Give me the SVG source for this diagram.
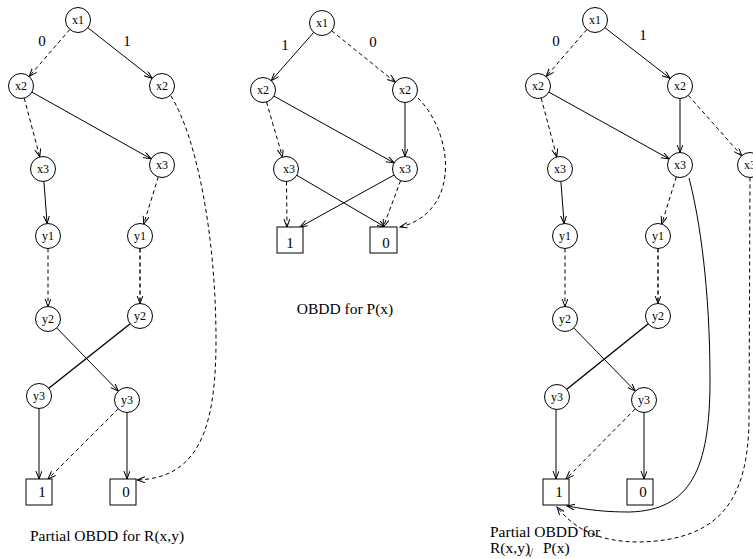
<svg xmlns="http://www.w3.org/2000/svg" width="753" height="559" viewBox="0 0 753 559">
<style>
text{font-family:"Liberation Serif","Times New Roman",serif;fill:#000}
.n circle{fill:#fff;stroke:#000;stroke-width:1}
.n text{font-size:12px;text-anchor:middle}
.b rect{fill:#fff;stroke:#000;stroke-width:1}
.b text{font-size:15px;text-anchor:middle}
.e{fill:none;stroke:#000;stroke-width:1}
.d{stroke-dasharray:4 3}
.t{stroke-width:1.4}
.a{marker-end:url(#arr)}
.lab{font-size:15px;text-anchor:middle}
.cap{font-size:15.5px}
</style>
<defs>
<marker id="arr" markerUnits="userSpaceOnUse" markerWidth="10" markerHeight="8" refX="8" refY="3" orient="auto">
<path d="M0,0 L8,3 L0,6" fill="none" stroke="#000" stroke-width="1" stroke-dasharray="none"/>
</marker>
</defs>
<rect width="753" height="559" fill="#fff"/>
<g id="connectors">
<!-- left -->
<line class="e d a" x1="69.8" y1="29.5" x2="29.2" y2="76.5"/>
<line class="e a" x1="87.8" y1="27.7" x2="152.2" y2="78.3"/>
<line class="e d a" x1="24.2" y1="98.1" x2="39.8" y2="156.9"/>
<line class="e a" x1="31.9" y1="92.1" x2="151.1" y2="158.9"/>
<path class="e d a" d="M171,96 C198,140 216,240 216,340 C216,430 198,478 137,480"/>
<line class="e a" x1="43.9" y1="181.5" x2="47.1" y2="223.5"/>
<line class="e d a" x1="158.3" y1="176.9" x2="143.7" y2="224.1"/>
<line class="e d a" x1="48" y1="248.5" x2="48" y2="306.5"/>
<line class="e d t a" x1="140" y1="248.5" x2="140" y2="303.5"/>
<line class="e a" x1="56.7" y1="327.9" x2="118.3" y2="391.1"/>
<line class="e t" x1="130.2" y1="323.8" x2="48.8" y2="388.2"/>
<line class="e a" x1="39" y1="408.5" x2="39" y2="479"/>
<line class="e d a" x1="118.2" y1="408.8" x2="48" y2="479"/>
<line class="e a" x1="127" y1="412.5" x2="127" y2="479"/>
<!-- middle -->
<line class="e a" x1="313.7" y1="32.4" x2="271.3" y2="80.6"/>
<line class="e d a" x1="331.7" y1="30.8" x2="395.3" y2="82.2"/>
<line class="e d a" x1="266.5" y1="102" x2="282.5" y2="157"/>
<line class="e a" x1="273.9" y1="96.1" x2="394.1" y2="162.9"/>
<line class="e a" x1="405" y1="102.5" x2="405" y2="156.5"/>
<path class="e d a" d="M418,98 C438,118 448,150 445,175 C442,205 422,222 400,227"/>
<line class="e d a" x1="286.5" y1="181.5" x2="287" y2="227"/>
<line class="e a" x1="296.8" y1="175.3" x2="385" y2="227"/>
<line class="e a" x1="394.1" y1="175" x2="300" y2="227"/>
<line class="e d a" x1="400.6" y1="180.7" x2="383.3" y2="227"/>
<!-- right -->
<line class="e d a" x1="586.8" y1="29.5" x2="546.2" y2="76.5"/>
<line class="e a" x1="604.9" y1="27.7" x2="670.1" y2="78.3"/>
<line class="e d a" x1="541.2" y1="98.1" x2="556.8" y2="156.9"/>
<line class="e a" x1="548.9" y1="92.1" x2="669.1" y2="158.9"/>
<line class="e a" x1="680" y1="98.5" x2="680" y2="152.5"/>
<line class="e d a" x1="688.3" y1="95.4" x2="741.7" y2="155.6"/>
<line class="e a" x1="560.9" y1="181.5" x2="564.1" y2="223.5"/>
<line class="e d a" x1="676.3" y1="176.9" x2="661.7" y2="224.1"/>
<path class="e a" d="M689,178 C700,220 710,290 710,380 C710,470 690,510 630,512 C600,512 585,509 567,506"/>
<path class="e d a" d="M750,177.5 L749,420 C748,500 720,540 640,542 C600,542 575,530 557,507"/>
<line class="e d a" x1="565" y1="248.5" x2="565" y2="306.5"/>
<line class="e d t a" x1="658" y1="248.5" x2="658" y2="303.5"/>
<line class="e a" x1="573.7" y1="327.9" x2="635.3" y2="391.1"/>
<line class="e t" x1="648.3" y1="323.8" x2="566.8" y2="389.2"/>
<line class="e a" x1="556" y1="409.5" x2="556" y2="479"/>
<line class="e d a" x1="635.2" y1="408.9" x2="566" y2="479"/>
<line class="e a" x1="644" y1="412.5" x2="644" y2="479"/>
</g>
<!-- edge labels -->
<text class="lab" x="42" y="46">0</text>
<text class="lab" x="127" y="46">1</text>
<text class="lab" x="285" y="50">1</text>
<text class="lab" x="373" y="47">0</text>
<text class="lab" x="556" y="46">0</text>
<text class="lab" x="643" y="40">1</text>
<!-- left nodes -->
<g id="L_x1" class="n"><circle cx="78" cy="20" r="12.5"/><text x="78" y="24">x1</text></g>
<g id="L_x2a" class="n"><circle cx="21" cy="86" r="12.5"/><text x="21" y="90">x2</text></g>
<g id="L_x2b" class="n"><circle cx="162" cy="86" r="12.5"/><text x="162" y="90">x2</text></g>
<g id="L_x3a" class="n"><circle cx="43" cy="169" r="12.5"/><text x="43" y="173">x3</text></g>
<g id="L_x3b" class="n"><circle cx="162" cy="165" r="12.5"/><text x="162" y="169">x3</text></g>
<g id="L_y1a" class="n"><circle cx="48" cy="236" r="12.5"/><text x="48" y="240">y1</text></g>
<g id="L_y1b" class="n"><circle cx="140" cy="236" r="12.5"/><text x="140" y="240">y1</text></g>
<g id="L_y2a" class="n"><circle cx="48" cy="319" r="12.5"/><text x="48" y="323">y2</text></g>
<g id="L_y2b" class="n"><circle cx="140" cy="316" r="12.5"/><text x="140" y="320">y2</text></g>
<g id="L_y3a" class="n"><circle cx="39" cy="396" r="12.5"/><text x="39" y="400">y3</text></g>
<g id="L_y3b" class="n"><circle cx="127" cy="400" r="12.5"/><text x="127" y="404">y3</text></g>
<g id="L_one" class="b"><rect x="26" y="479" width="26" height="26"/><text x="42" y="497">1</text></g>
<g id="L_zero" class="b"><rect x="110" y="479" width="26" height="26"/><text x="126" y="497">0</text></g>
<!-- middle nodes -->
<g id="M_x1" class="n"><circle cx="322" cy="23" r="12.5"/><text x="322" y="27">x1</text></g>
<g id="M_x2a" class="n"><circle cx="263" cy="90" r="12.5"/><text x="263" y="94">x2</text></g>
<g id="M_x2b" class="n"><circle cx="405" cy="90" r="12.5"/><text x="405" y="94">x2</text></g>
<g id="M_x3a" class="n"><circle cx="286" cy="169" r="12.5"/><text x="289" y="173">x3</text></g>
<g id="M_x3b" class="n"><circle cx="405" cy="169" r="12.5"/><text x="405" y="173">x3</text></g>
<g id="M_one" class="b"><rect x="277" y="227" width="26" height="26"/><text x="290" y="248">1</text></g>
<g id="M_zero" class="b"><rect x="370" y="227" width="27" height="26"/><text x="386" y="248">0</text></g>
<!-- right nodes -->
<g id="R_x1" class="n"><circle cx="595" cy="20" r="12.5"/><text x="595" y="24">x1</text></g>
<g id="R_x2a" class="n"><circle cx="538" cy="86" r="12.5"/><text x="538" y="90">x2</text></g>
<g id="R_x2b" class="n"><circle cx="680" cy="86" r="12.5"/><text x="680" y="90">x2</text></g>
<g id="R_x3a" class="n"><circle cx="560" cy="169" r="12.5"/><text x="560" y="173">x3</text></g>
<g id="R_x3b" class="n"><circle cx="680" cy="165" r="12.5"/><text x="680" y="169">x3</text></g>
<g id="R_x3c" class="n"><circle cx="750" cy="165" r="12.5"/><text x="750" y="169">x3</text></g>
<g id="R_y1a" class="n"><circle cx="565" cy="236" r="12.5"/><text x="565" y="240">y1</text></g>
<g id="R_y1b" class="n"><circle cx="658" cy="236" r="12.5"/><text x="658" y="240">y1</text></g>
<g id="R_y2a" class="n"><circle cx="565" cy="319" r="12.5"/><text x="565" y="323">y2</text></g>
<g id="R_y2b" class="n"><circle cx="658" cy="316" r="12.5"/><text x="658" y="320">y2</text></g>
<g id="R_y3a" class="n"><circle cx="557" cy="397" r="12.5"/><text x="557" y="401">y3</text></g>
<g id="R_y3b" class="n"><circle cx="644" cy="400" r="12.5"/><text x="644" y="404">y3</text></g>
<g id="R_one" class="b"><rect x="543" y="479" width="26" height="26"/><text x="559" y="497">1</text></g>
<g id="R_zero" class="b"><rect x="627" y="479" width="26" height="26"/><text x="643" y="497">0</text></g>
<!-- captions -->
<text class="cap" x="30" y="541">Partial OBDD for R(x,y)</text>
<text class="cap" x="345" y="314" text-anchor="middle">OBDD for P(x)</text>
<text class="cap" x="490" y="537">Partial OBDD for</text>
<text class="cap" x="490" y="553">R(x,y)<tspan x="527" y="557" font-size="11">√</tspan><tspan x="543" y="553">P(x)</tspan></text>
</svg>
